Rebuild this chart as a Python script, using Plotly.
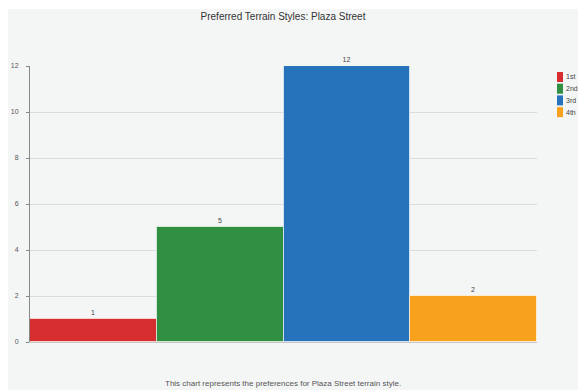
import plotly.graph_objects as go

# Ranking counts for the Plaza Street terrain style
categories = ["1st", "2nd", "3rd", "4th"]
counts = [1, 5, 12, 2]
colors = ["#d62e2f", "#308f40", "#2673bc", "#f7a11f"]
y_ticks = [0, 2, 4, 6, 8, 10, 12]

title_text = "Preferred Terrain Styles: Plaza Street"
caption_text = "This chart represents the preferences for Plaza Street terrain style."

W, H = 578, 390
L, R, T, B = 30, 41, 66, 48
plot_w = W - L - R
plot_h = H - T - B


def px_x(px):
    """Convert a page x pixel to paper coordinates."""
    return (px - L) / plot_w


def px_y(py):
    """Convert a page y pixel to paper coordinates."""
    return (H - B - py) / plot_h


fig = go.Figure()
for cat, val, col in zip(categories, counts, colors):
    fig.add_trace(go.Bar(
        x=[cat], y=[val], name=cat, showlegend=False,
        marker=dict(color=col, line=dict(color="rgba(255,255,255,0.6)", width=1)),
        text=[str(val)], textposition="outside",
        textfont=dict(size=7, color="#444"),
        cliponaxis=False,
    ))

# Light grey panel behind the chart, inset from the top-left page edge
fig.add_shape(
    type="rect", xref="paper", yref="paper", layer="below",
    x0=px_x(8), x1=px_x(W + 2), y0=px_y(H + 2), y1=px_y(9),
    fillcolor="#f4f6f6", line=dict(width=0),
)

# Legend: slim colour swatches with their rank labels
for i, (cat, col) in enumerate(zip(categories, colors)):
    top = 72 + 11.7 * i
    fig.add_shape(
        type="rect", xref="paper", yref="paper",
        x0=px_x(557), x1=px_x(563), y0=px_y(top + 10), y1=px_y(top),
        fillcolor=col, line=dict(width=0),
    )
    fig.add_annotation(
        text=cat, xref="paper", yref="paper",
        x=px_x(565), y=px_y(top + 5), xanchor="left", yanchor="middle",
        showarrow=False, borderpad=0, font=dict(size=7, color="#444"),
    )

fig.add_annotation(
    text=caption_text, xref="paper", yref="paper",
    x=px_x(283), y=px_y(389),
    xanchor="center", yanchor="bottom", showarrow=False, borderpad=0,
    font=dict(size=8, color="#555"),
)

fig.update_layout(
    width=W, height=H,
    margin=dict(l=L, r=R, t=T, b=B, autoexpand=False),
    paper_bgcolor="white",
    plot_bgcolor="rgba(0,0,0,0)",
    font=dict(family="Liberation Sans, Arial, sans-serif", color="#444"),
    title=dict(text=title_text, x=283 / W, xanchor="center",
               y=1 - 16 / H, yanchor="middle",
               font=dict(size=10, color="#333")),
    barmode="overlay",
    bargap=0,
    showlegend=False,
    xaxis=dict(showticklabels=False, showgrid=False, zeroline=False,
               showline=True, linecolor="#c8c8c8", linewidth=1,
               range=[-0.5, 3.5], ticks=""),
    yaxis=dict(range=[0, 12], tickvals=y_ticks, showgrid=True,
               gridcolor="#dcdcdc", gridwidth=1, zeroline=False,
               showline=True, linecolor="#888", linewidth=1,
               ticks="outside", ticklen=3, tickcolor="#888",
               ticklabelstandoff=6,
               tickfont=dict(size=7, color="#555")),
)

fig.write_html("out.html")
